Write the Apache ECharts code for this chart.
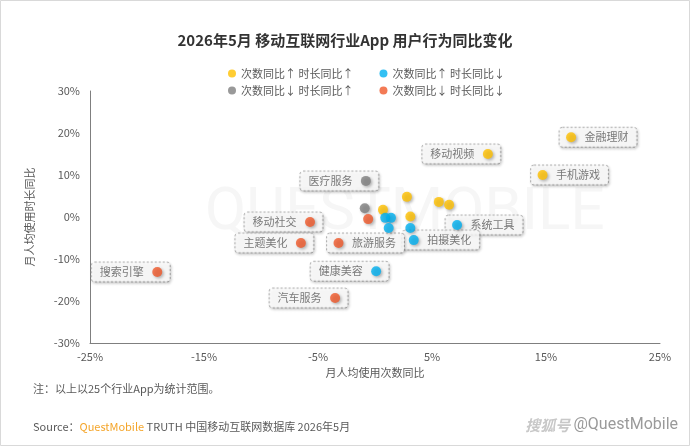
<!DOCTYPE html>
<html>
<head>
<meta charset="utf-8">
<script src="https://cdn.jsdelivr.net/npm/echarts@6/dist/echarts.min.js"></script>
<style>
html,body{margin:0;padding:0;background:#fff;}
#c{width:690px;height:446px;}
</style>
</head>
<body>
<div id="c"></div>
<script>
// ---- data ----
const seriesNames = ['次数同比↑ 时长同比↑', '次数同比↑ 时长同比↓', '次数同比↓ 时长同比↑', '次数同比↓ 时长同比↓'];

const yellowNames = ['金融理财', '移动视频', '手机游戏', '', '', '', '', ''];
const yellowX = [17.2, 9.9, 14.7, 2.8, 5.6, 6.5, 0.7, 3.1];
const yellowY = [19.0, 15.0, 10.0, 4.8, 3.6, 2.9, 1.7, 0.1];

const blueNames = ['系统工具', '拍摄美化', '健康美容', '', '', '', ''];
const blueX = [7.2, 3.4, 0.1, 0.9, 1.4, 1.2, 3.1];
const blueY = [-1.9, -5.5, -12.9, -0.2, -0.2, -2.6, -2.6];

const grayNames = ['医疗服务', ''];
const grayX = [-0.8, -0.9];
const grayY = [8.6, 2.1];

const redNames = ['搜索引擎', '移动社交', '主题美化', '旅游服务', '汽车服务', ''];
const redX = [-19.1, -5.7, -6.5, -3.2, -3.5, -0.6];
const redY = [-13.1, -1.2, -6.2, -6.2, -19.3, -0.5];

const xTickLabels = ['-25%', '-15%', '-5%', '5%', '15%', '25%'];
const yTickLabels = ['-30%', '-20%', '-10%', '0%', '10%', '20%', '30%'];

// labels drawn to the right of their point
const rightLabels = ['金融理财', '手机游戏', '系统工具', '拍摄美化', '旅游服务'];

const colors = ['#FFC000', '#00B0F0', '#7F7F7F', '#F0592A'];
const FONT = '"Noto Sans CJK SC", "Microsoft YaHei", sans-serif';

function pts(names, xs, ys) {
  return names.map((n, i) => ({ name: n, value: [xs[i], ys[i]] }));
}
const groups = [
  pts(yellowNames, yellowX, yellowY),
  pts(blueNames, blueX, blueY),
  pts(grayNames, grayX, grayY),
  pts(redNames, redX, redY)
];

const labelBase = {
  show: true,
  fontSize: 11,
  fontFamily: FONT,
  color: '#595959',
  backgroundColor: '#fff',
  borderColor: '#a6a6a6',
  borderWidth: 1,
  borderType: [2, 2],
  borderRadius: 3,
  lineHeight: 13,
  shadowColor: 'rgba(0,0,0,0.25)',
  shadowBlur: 3,
  shadowOffsetX: 1,
  shadowOffsetY: 1.5,
  formatter: p => p.name
};

// label-only series (drawn underneath the dots)
const labelData = [];
groups.forEach(g => g.forEach(d => {
  if (!d.name) return;
  const right = rightLabels.indexOf(d.name) >= 0;
  labelData.push({
    name: d.name,
    value: d.value,
    label: right
      ? Object.assign({}, labelBase, { position: 'right', distance: 0, offset: [-12, 0], padding: [3, 8, 3, 25] })
      : Object.assign({}, labelBase, { position: 'left', distance: 0, offset: [13, 0], padding: [3, 26, 3, 8] })
  });
}));

const dotSeries = groups.map((g, i) => ({
  name: seriesNames[i],
  type: 'scatter',
  z: 5,
  symbol: 'circle',
  symbolSize: 10,
  data: g,
  itemStyle: {
    color: colors[i],
    shadowColor: 'rgba(0,0,0,0.35)',
    shadowBlur: 3,
    shadowOffsetX: 1.5,
    shadowOffsetY: 1.5
  },
  label: { show: false },
  emphasis: { disabled: true }
}));

const chart = echarts.init(document.getElementById('c'), null, { renderer: 'canvas' });

function xFmt(v) {
  const s = Math.round(v) + '%';
  return xTickLabels.indexOf(s) >= 0 ? s : '';
}
function yFmt(v) {
  const s = Math.round(v) + '%';
  return yTickLabels.indexOf(s) >= 0 ? s : '';
}

const legendCommon = {
  left: 223,
  icon: 'circle',
  itemWidth: 8,
  itemHeight: 8,
  itemGap: 26,
  textStyle: { fontSize: 11, color: '#595959', fontFamily: FONT },
  selectedMode: false
};

chart.setOption({
  animation: false,
  backgroundColor: '#fff',
  color: colors,
  title: {
    text: '2026年5月 移动互联网行业App 用户行为同比变化',
    left: 'center',
    top: 28,
    textStyle: { fontSize: 15, fontWeight: 'bold', color: '#333', fontFamily: FONT }
  },
  legend: [
    Object.assign({}, legendCommon, { top: 63, data: [seriesNames[0], seriesNames[1]] }),
    Object.assign({}, legendCommon, { top: 80, data: [seriesNames[2], seriesNames[3]] })
  ],
  grid: { left: 90, right: 30, top: 91, bottom: 103 },
  xAxis: {
    type: 'value',
    min: -25, max: 25, interval: 5,
    name: '月人均使用次数同比',
    nameLocation: 'middle',
    nameGap: 24,
    nameTextStyle: { fontSize: 11, color: '#595959', fontFamily: FONT },
    axisLine: { show: true, onZero: false, lineStyle: { color: '#7f7f7f' } },
    axisTick: { show: false },
    splitLine: { show: false },
    axisLabel: { formatter: xFmt, fontSize: 11, color: '#595959', margin: 8, fontFamily: FONT }
  },
  yAxis: {
    type: 'value',
    min: -30, max: 30, interval: 10,
    name: '月人均使用时长同比',
    nameLocation: 'middle',
    nameGap: 55,
    nameTextStyle: { fontSize: 11, color: '#595959', fontFamily: FONT },
    axisLine: { show: true, onZero: false, lineStyle: { color: '#7f7f7f' } },
    axisTick: { show: false },
    splitLine: { show: false },
    axisLabel: { formatter: yFmt, fontSize: 11, color: '#595959', margin: 10, fontFamily: FONT }
  },
  graphic: [
    { type: 'rect', z: -10, silent: true, shape: { x: 0.5, y: 0.5, width: 689, height: 445 },
      style: { fill: 'none', stroke: '#d9d9d9', lineWidth: 1 } },
    { type: 'text', z: -5, silent: true, left: 205, top: 184,
      style: { text: 'QUESTMOBILE', fontSize: 60, fontFamily: 'Roboto, sans-serif', fill: '#f6f6f6' } },
    { type: 'text', left: 33, top: 383,
      style: { text: '注：以上以25个行业App为统计范围。', fontSize: 11, fill: '#595959', fontFamily: FONT } },
    { type: 'text', left: 33, top: 421,
      style: {
        text: '{a|Source：}{b|QuestMobile}{a| TRUTH 中国移动互联网数据库 2026年5月}',
        rich: {
          a: { fontSize: 11, fill: '#595959', fontFamily: FONT },
          b: { fontSize: 11, fill: '#F4A52A', fontFamily: FONT }
        }
      } },
    { type: 'text', right: 12, top: 417,
      style: {
        text: '{s|搜狐号} {q|@QuestMobile}',
        rich: {
          s: { fontSize: 15, fontStyle: 'italic', fontWeight: 'bold', fill: '#c8c8c8', fontFamily: FONT },
          q: { fontSize: 16, fill: '#9a9a9a', fontFamily: 'Roboto, sans-serif' }
        }
      } }
  ],
  series: [{
    name: 'labels',
    type: 'scatter',
    z: 2,
    symbolSize: 1,
    itemStyle: { color: 'rgba(0,0,0,0)' },
    data: labelData,
    emphasis: { disabled: true }
  }].concat(dotSeries)
});
</script>
</body>
</html>
